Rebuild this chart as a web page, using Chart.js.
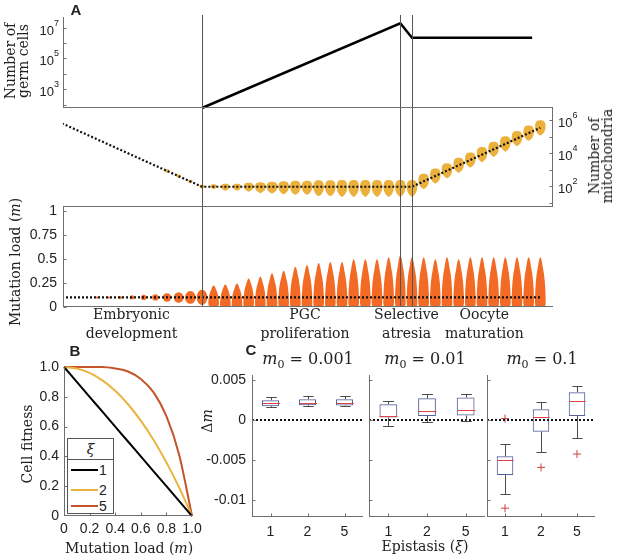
<!DOCTYPE html>
<html><head><meta charset="utf-8">
<script src="https://cdn.jsdelivr.net/npm/chart.js@4/dist/chart.umd.min.js"></script>
<style>
html,body{margin:0;padding:0;background:#fff;}
#wrap{position:relative;width:617px;height:559px;overflow:hidden;font-family:"DejaVu Serif",serif;color:#222;}
canvas{position:absolute;left:0;top:0;}
.t{position:absolute;white-space:nowrap;transform:translate(-50%,-50%);font-size:14px;line-height:1;}
.r{transform:translate(-50%,-50%) rotate(-90deg);text-align:center;}
.lt{font-family:"Liberation Sans",Arial,sans-serif;font-weight:bold;font-size:15px;}
sub{font-size:11px;vertical-align:-4px;line-height:0;}
#leg{position:absolute;left:67px;top:438px;width:45px;height:74px;border:1px solid #555;background:#fff;font-family:"Liberation Sans",Arial,sans-serif;font-size:14px;}
#leg .hd{position:absolute;left:0;top:0;width:45px;height:20px;border-bottom:1px solid #555;text-align:center;font-family:"DejaVu Serif",serif;font-style:italic;line-height:20px;}
#leg .ln{position:absolute;left:3px;width:27px;height:2px;}
#leg .nm{position:absolute;left:31px;line-height:14px;}
</style></head>
<body><div id="wrap">
<canvas id="aTop" width="617" height="559"></canvas>
<canvas id="aMid" width="617" height="559"></canvas>
<canvas id="aBot" width="617" height="559"></canvas>
<canvas id="bFit" width="617" height="559"></canvas>
<canvas id="c1" width="617" height="559"></canvas>
<canvas id="c2" width="617" height="559"></canvas>
<canvas id="c3" width="617" height="559"></canvas>

<div class="t lt" style="left:76px;top:9px">A</div>
<div class="t lt" style="left:75px;top:350px">B</div>
<div class="t lt" style="left:251px;top:349px">C</div>
<div class="t r" style="left:17px;top:61px;line-height:13px">Number of<br>germ cells</div>
<div class="t r" style="left:601px;top:156px;line-height:13px">Number of<br>mitochondria</div>
<div class="t r" style="left:15px;top:262px">Mutation load (<i>m</i>)</div>
<div class="t r" style="left:27px;top:444px">Cell fitness</div>
<div class="t" style="left:129px;top:548px">Mutation load (<i>m</i>)</div>
<div class="t" style="left:425px;top:546px">Epistasis (<i>ξ</i>)</div>
<div class="t r" style="left:207px;top:421px">Δ<i>m</i></div>
<div class="t" style="left:308px;top:359px;font-size:16px"><i>m</i><sub>0</sub> = 0.001</div>
<div class="t" style="left:425px;top:359px;font-size:16px"><i>m</i><sub>0</sub> = 0.01</div>
<div class="t" style="left:542px;top:359px;font-size:16px"><i>m</i><sub>0</sub> = 0.1</div>
<div id="leg"><div class="hd">ξ</div></div>
</div>
<script>
// ================= DATA =================
// Panel A: shared generation axis
const phaseBounds = [12, 29, 30];
const phaseNames = [['Embryonic', 'development'], ['PGC', 'proliferation'], ['Selective', 'atresia'], ['Oocyte', 'maturation']];
const phaseLabelPos = [5.96, 20.83, 29.53, 36.2];

// A top: number of germ cells
const germGen = [12, 29, 30, 40.3];
const germCells = [60, 1.9e7, 2.2e6, 2.2e6];
const germTicks = [1e3, 1e5, 1e7];

// A middle: number of mitochondria (mean line + per-generation spread)
const mitoLineGen = [0, 12, 30, 41];
const mitoLineVal = [6.3e5, 91, 91, 3.4e5];
const mitoGen = [9, 10, 11, 12, 13, 14, 15, 16, 17, 18, 19, 20, 21, 22, 23, 24, 25, 26, 27, 28, 29, 30,
                 31, 32, 33, 34, 35, 36, 37, 38, 39, 40, 41];
const mitoLow = [660, 316, 151, 69, 64, 52, 52, 46, 37, 35, 32, 30, 30, 24, 24, 22, 22, 22, 22, 22, 22, 22,
                 66, 141, 295, 631, 1318, 2818, 5888, 12589, 26303, 56234, 117490];
const mitoHigh = [1047, 501, 240, 120, 129, 138, 138, 158, 170, 182, 195, 209, 209, 224, 224, 234, 234, 234, 234, 234, 234, 234,
                  550, 1175, 2455, 5248, 10965, 23442, 48978, 104713, 218776, 467735, 977237];
const mitoTicks = [1e2, 1e4, 1e6];

// A bottom: mutation load (initial level + per-generation spread)
const loadLineGen = [0, 41];
const loadLineVal = [0.1, 0.1];
const loadGen = [3, 4, 5, 6, 7, 8, 9, 10, 11, 12, 13, 14, 15, 16, 17, 18, 19, 20, 21, 22, 23, 24, 25, 26, 27, 28,
                 29, 30, 31, 32, 33, 34, 35, 36, 37, 38, 39, 40, 41];
const loadLow = [0.089, 0.089, 0.084, 0.078, 0.073, 0.067, 0.056, 0.045, 0.034, 0.02, 0.01,
                 0.004, 0.004, 0.004, 0.004, 0.004, 0.004, 0.004, 0.004, 0.004, 0.004, 0.004, 0.004, 0.004,
                 0.004, 0.004, 0.004, 0.004, 0.004, 0.004, 0.004, 0.004, 0.004, 0.004, 0.004, 0.004, 0.004, 0.004, 0.004];
const loadHigh = [0.111, 0.111, 0.116, 0.122, 0.127, 0.133, 0.144, 0.155, 0.166, 0.18, 0.225,
                  0.236, 0.245, 0.298, 0.317, 0.353, 0.38, 0.42, 0.44, 0.46, 0.47, 0.47, 0.5, 0.5,
                  0.5, 0.52, 0.54, 0.52, 0.52, 0.5, 0.52, 0.5, 0.52, 0.52, 0.52, 0.52, 0.52, 0.52, 0.52];
const loadTicks = [0, 0.25, 0.5, 0.75, 1];

// Panel B: cell fitness vs mutation load
const loadGrid = [0, 0.1, 0.2, 0.3, 0.4, 0.5, 0.6, 0.7, 0.8, 0.9, 1];
const fitXi1 = [1, 0.9, 0.8, 0.7, 0.6, 0.5, 0.4, 0.3, 0.2, 0.1, 0];
const fitXi2 = [1, 0.99, 0.96, 0.91, 0.84, 0.75, 0.64, 0.51, 0.36, 0.19, 0];
const fitXi5 = [1, 1, 1, 1, 0.99, 0.97, 0.92, 0.83, 0.67, 0.41, 0];
const xiLabels = ['1', '2', '5'];

// Panel C: change in mutation load, boxplots per m0 and epistasis
const m0Values = ['0.001', '0.01', '0.1'];
const epistasis = ['1', '2', '5'];
const whiskLo = [[0.00165, 0.00179, 0.00175], [-0.00071, -0.00021, -0.00008], [-0.00921, -0.00396, -0.00221]];
const boxQ1   = [[0.00171, 0.00183, 0.00179], [0.00029, 0.0005, 0.00054], [-0.00688, -0.00146, 0.0005]];
const boxMed  = [[0.00208, 0.00217, 0.00217], [0.0005, 0.00108, 0.00121], [-0.005, 0.00033, 0.00233]];
const boxQ3   = [[0.00246, 0.00258, 0.00258], [0.00196, 0.00271, 0.00279], [-0.00454, 0.00133, 0.00346]];
const whiskHi = [[0.00283, 0.00296, 0.00296], [0.00242, 0.00329, 0.00329], [-0.00296, 0.00229, 0.00429]];
const outliers = [[[], [], []], [[], [], []], [[0.00017, -0.011], [-0.00592], [-0.00425]]];
const dmTicks = [0.005, 0, -0.005, -0.01];

// ================= STYLE =================
const SANS = '"Liberation Sans", Arial, sans-serif';
const SERIF = '"DejaVu Serif", serif';
const AXIS = '#6e6e6e';
const GOLD = '#ECB03C';
const ORANGE = '#F26A24';
const YELLOW = '#E9B43E';
const RUST = '#C4542A';

// ================= PLUGINS =================
const framePlugin = {
  id: 'frame',
  afterDraw(chart, a, o) {
    if (!o || !o.sides) return;
    const { ctx, chartArea: c } = chart;
    ctx.save();
    ctx.strokeStyle = o.color || AXIS; ctx.lineWidth = 1;
    ctx.beginPath();
    const L = Math.round(c.left) + 0.5, R = Math.round(c.right) - 0.5, T = Math.round(c.top) + 0.5, B = Math.round(c.bottom) - 0.5;
    o.sides.forEach(s => {
      if (s === 'left') { ctx.moveTo(L, c.top); ctx.lineTo(L, c.bottom); }
      if (s === 'right') { ctx.moveTo(R, c.top); ctx.lineTo(R, c.bottom); }
      if (s === 'top') { ctx.moveTo(c.left, T); ctx.lineTo(c.right, T); }
      if (s === 'bottom') { ctx.moveTo(c.left, B); ctx.lineTo(c.right, B); }
    });
    (o.ticks || []).forEach(t => {
      const s = chart.scales[t.scale];
      t.values.forEach(v => {
        const p = Math.round(s.getPixelForValue(v)) + 0.5;
        if (t.side === 'left') { ctx.moveTo(L, p); ctx.lineTo(L + t.len, p); }
        if (t.side === 'right') { ctx.moveTo(R, p); ctx.lineTo(R - t.len, p); }
        if (t.side === 'bottom') { ctx.moveTo(p, B); ctx.lineTo(p, B - t.len); }
      });
    });
    ctx.stroke();
    ctx.restore();
  }
};

const vlinePlugin = {
  id: 'vlines',
  afterDatasetsDraw(chart, a, o) {
    if (!o || !o.values) return;
    const { ctx, chartArea: c } = chart; const x = chart.scales.x;
    ctx.save(); ctx.strokeStyle = o.color || '#555'; ctx.lineWidth = 1; ctx.beginPath();
    o.values.forEach(v => { const p = Math.round(x.getPixelForValue(v)) + 0.5; ctx.moveTo(p, (o.top != null ? o.top : c.top)); ctx.lineTo(p, c.bottom); });
    ctx.stroke(); ctx.restore();
  }
};

const expTickPlugin = {
  id: 'expTicks',
  afterDraw(chart, a, o) {
    if (!o || !o.values) return;
    const s = chart.scales[o.scale]; const ctx = chart.ctx;
    ctx.save(); ctx.fillStyle = '#222'; ctx.textBaseline = 'alphabetic'; ctx.textAlign = 'left';
    o.values.forEach(v => {
      const y = s.getPixelForValue(v);
      const e = String(Math.round(Math.log10(v)));
      ctx.font = '13px ' + SANS; const wb = ctx.measureText('10').width;
      ctx.font = '9px ' + SANS; const we = ctx.measureText(e).width;
      const x0 = o.side === 'left' ? s.right - o.gap - wb - we : s.left + o.gap;
      ctx.font = '13px ' + SANS; ctx.fillText('10', x0, y + 7);
      ctx.font = '9px ' + SANS; ctx.fillText(e, x0 + wb, y - 2);
    });
    ctx.restore();
  }
};

// draws each floating bar of a dataset as a blob / flame instead of a rectangle
const shapePlugin = {
  id: 'shapes',
  afterDatasetDraw(chart, args) {
    const ds = chart.data.datasets[args.index];
    if (!ds.shape) return;
    const { ctx, chartArea: c } = chart;
    ctx.save();
    ctx.beginPath(); ctx.rect(c.left, c.top, c.right - c.left, c.bottom - c.top); ctx.clip();
    ctx.fillStyle = ds.shapeColor;
    args.meta.data.forEach(el => {
      const p = el.getProps(['x', 'y', 'base', 'width'], true);
      const top = Math.min(p.y, p.base), bot = Math.max(p.y, p.base), h = bot - top, x = p.x;
      ctx.beginPath();
      if (ds.shape === 'drop') {
        const rx = Math.min(p.width / 2, h * 0.45 + 0.8);
        ctx.moveTo(x, bot);
        ctx.bezierCurveTo(x - rx * 0.4, bot - h * 0.05, x - rx, bot - h * 0.25, x - rx, top + h * 0.42);
        ctx.bezierCurveTo(x - rx, top + h * 0.05, x - rx * 0.55, top, x, top);
        ctx.bezierCurveTo(x + rx * 0.55, top, x + rx, top + h * 0.05, x + rx, top + h * 0.42);
        ctx.bezierCurveTo(x + rx, bot - h * 0.25, x + rx * 0.4, bot - h * 0.05, x, bot);
      } else {
        const rx = Math.min(p.width / 2, h * 0.4 + 0.6);
        if (h < 16) {
          ctx.ellipse(x, (top + bot) / 2, rx, h / 2, 0, 0, Math.PI * 2);
        } else {
          ctx.moveTo(x - rx * 0.7, bot);
          ctx.quadraticCurveTo(x - rx, bot, x - rx, bot - h * 0.1);
          ctx.quadraticCurveTo(x - rx * 0.95, bot - h * 0.55, x - rx * 0.45, top + h * 0.2);
          ctx.quadraticCurveTo(x - rx * 0.2, top, x, top);
          ctx.quadraticCurveTo(x + rx * 0.2, top, x + rx * 0.45, top + h * 0.2);
          ctx.quadraticCurveTo(x + rx * 0.95, bot - h * 0.55, x + rx, bot - h * 0.1);
          ctx.quadraticCurveTo(x + rx, bot, x + rx * 0.7, bot);
        }
      }
      ctx.closePath(); ctx.fill();
    });
    ctx.restore();
  }
};

const whiskerPlugin = {
  id: 'whiskers',
  afterDatasetsDraw(chart, a, o) {
    if (!o || !o.med) return;
    const { ctx } = chart; const xs = chart.scales.x, ys = chart.scales.y;
    ctx.save(); ctx.lineWidth = 1;
    o.med.forEach((m, i) => {
      const x = Math.round(xs.getPixelForValue(i + 1)) + 0.5;
      const cap = xs.getPixelForValue(i + 1 + 0.14) - xs.getPixelForValue(i + 1);
      const half = xs.getPixelForValue(i + 1 + 0.23) - xs.getPixelForValue(i + 1);
      const yq1 = ys.getPixelForValue(o.q1[i]), yq3 = ys.getPixelForValue(o.q3[i]);
      const ylo = Math.round(ys.getPixelForValue(o.lo[i])) + 0.5, yhi = Math.round(ys.getPixelForValue(o.hi[i])) + 0.5;
      ctx.strokeStyle = '#4a4a4a'; ctx.beginPath();
      ctx.moveTo(x, yq3); ctx.lineTo(x, yhi); ctx.moveTo(x - cap, yhi); ctx.lineTo(x + cap, yhi);
      ctx.moveTo(x, yq1); ctx.lineTo(x, ylo); ctx.moveTo(x - cap, ylo); ctx.lineTo(x + cap, ylo);
      ctx.stroke();
      const ym = Math.round(ys.getPixelForValue(m)) + 0.5;
      ctx.strokeStyle = '#dd4444'; ctx.beginPath(); ctx.moveTo(x - half, ym); ctx.lineTo(x + half, ym); ctx.stroke();
    });
    ctx.restore();
  }
};

Chart.register(framePlugin, vlinePlugin, expTickPlugin, shapePlugin, whiskerPlugin);

const base = () => ({ responsive: false, animation: false, events: [], plugins: { legend: { display: false }, tooltip: { enabled: false } } });
const pts = (xs, ys) => xs.map((x, i) => ({ x, y: ys[i] }));
const T_MIN = 0.086, T_MAX = 42.086;
const noGrid = { display: false, drawTicks: false };

// ---------- A top ----------
{
  const o = base();
  o.layout = { padding: { left: 13, right: 64, top: 17, bottom: 451 } };
  o.plugins.frame = { sides: ['left', 'bottom'], ticks: [{ scale: 'y', values: [1e2, 1e3, 1e4, 1e5, 1e6, 1e7], side: 'left', len: 3 }] };
  o.plugins.vlines = { values: phaseBounds, top: 15 };
  o.plugins.expTicks = { scale: 'y', values: germTicks, side: 'left', gap: 4 };
  o.scales = {
    x: { type: 'linear', min: T_MIN, max: T_MAX, offset: false, display: false },
    y: { type: 'logarithmic', min: 60, max: 4.9e7, afterFit: s => { s.width = 50; }, ticks: { display: false }, grid: noGrid, border: { display: false } }
  };
  new Chart(document.getElementById('aTop'), {
    type: 'line',
    data: { datasets: [{ data: pts(germGen, germCells), borderColor: '#000', borderWidth: 2.5, pointRadius: 0, tension: 0, clip: false }] },
    options: o
  });
}

// ---------- A middle ----------
{
  const o = base();
  o.layout = { padding: { left: 63, right: 14, top: 108, bottom: 352 } };
  o.plugins.frame = { sides: ['right', 'bottom'], ticks: [{ scale: 'y', values: [1e1, 1e2, 1e3, 1e4, 1e5, 1e6], side: 'right', len: 3 }] };
  o.plugins.vlines = { values: phaseBounds };
  o.plugins.expTicks = { scale: 'y', values: mitoTicks, side: 'right', gap: 5 };
  o.scales = {
    x: { type: 'linear', min: T_MIN, max: T_MAX, offset: false, display: false },
    y: { type: 'logarithmic', position: 'right', min: 5.4, max: 5.4e6, afterFit: s => { s.width = 50; }, ticks: { display: false }, grid: noGrid, border: { display: false } }
  };
  new Chart(document.getElementById('aMid'), {
    type: 'bar',
    data: { datasets: [
      { type: 'line', order: 0, data: pts(mitoLineGen, mitoLineVal), borderColor: '#111', borderWidth: 2.2, borderDash: [2, 2], pointRadius: 0, tension: 0 },
      { type: 'bar', order: 1, data: mitoGen.map((g, i) => ({ x: g, y: [mitoLow[i], mitoHigh[i]] })), backgroundColor: 'rgba(0,0,0,0)', borderWidth: 0,
        barPercentage: 0.9, categoryPercentage: 1, shape: 'drop', shapeColor: GOLD }
    ] },
    options: o
  });
}

// ---------- A bottom ----------
{
  const o = base();
  o.layout = { padding: { left: 13, right: 64, top: 207, bottom: 211 } };
  o.plugins.frame = { sides: ['left', 'bottom'], ticks: [{ scale: 'y', values: loadTicks, side: 'left', len: 3 }] };
  o.plugins.vlines = { values: phaseBounds };
  o.scales = {
    x: { type: 'linear', min: T_MIN, max: T_MAX, offset: false, afterFit: s => { s.height = 41; },
         afterBuildTicks: s => { s.ticks = phaseLabelPos.map(v => ({ value: v })); },
         ticks: { autoSkip: false, maxRotation: 0, padding: -1, color: '#222', font: { family: SERIF, size: 14, lineHeight: 1.33 }, callback: (v, i) => phaseNames[i] },
         grid: noGrid, border: { display: false } },
    y: { type: 'linear', min: 0, max: 1.045, afterFit: s => { s.width = 50; },
         afterBuildTicks: s => { s.ticks = loadTicks.map(v => ({ value: v })); },
         ticks: { padding: 6, color: '#222', font: { family: SANS, size: 14 }, callback: v => String(v) },
         grid: noGrid, border: { display: false } }
  };
  new Chart(document.getElementById('aBot'), {
    type: 'bar',
    data: { datasets: [
      { type: 'line', order: 0, data: pts(loadLineGen, loadLineVal), borderColor: '#111', borderWidth: 2.2, borderDash: [2, 2], pointRadius: 0, tension: 0 },
      { type: 'bar', order: 1, data: loadGen.map((g, i) => ({ x: g, y: [loadLow[i], loadHigh[i]] })), backgroundColor: 'rgba(0,0,0,0)', borderWidth: 0,
        barPercentage: 0.92, categoryPercentage: 1, shape: 'flame', shapeColor: ORANGE }
    ] },
    options: o
  });
}

// ---------- B ----------
{
  const o = base();
  o.layout = { padding: { left: 14, right: 425, top: 367, bottom: 18 } };
  o.plugins.frame = { sides: ['left', 'bottom'], ticks: [
    { scale: 'x', values: [0.2, 0.4, 0.6, 0.8], side: 'bottom', len: 3 },
    { scale: 'y', values: [0.2, 0.4, 0.6, 0.8], side: 'left', len: 3 }] };
  o.scales = {
    x: { type: 'linear', min: 0, max: 1, afterFit: s => { s.height = 25; }, ticks: { stepSize: 0.2, padding: 5, color: '#222', font: { family: SANS, size: 14 } }, grid: noGrid, border: { display: false } },
    y: { type: 'linear', min: 0, max: 1, afterFit: s => { s.width = 50; }, ticks: { stepSize: 0.2, padding: 5, color: '#222', font: { family: SANS, size: 14 } }, grid: noGrid, border: { display: false } }
  };
  const line = (ys, col) => ({ data: pts(loadGrid, ys), borderColor: col, borderWidth: 2, pointRadius: 0, cubicInterpolationMode: 'monotone', clip: false });
  new Chart(document.getElementById('bFit'), {
    type: 'line',
    data: { datasets: [line(fitXi1, '#000'), line(fitXi2, YELLOW), line(fitXi5, RUST)] },
    options: o
  });
  const leg = document.getElementById('leg');
  [['#000', 31], [YELLOW, 51], [RUST, 67]].forEach(([col, y], i) => {
    const l = document.createElement('div'); l.className = 'ln'; l.style.top = (y - 1) + 'px'; l.style.background = col; leg.appendChild(l);
    const n = document.createElement('div'); n.className = 'nm'; n.style.top = (y - 7) + 'px'; n.textContent = xiLabels[i]; leg.appendChild(n);
  });
}

// ---------- C ----------
const cLayout = [
  { id: 'c1', left: 252, right: 363, yLabels: true },
  { id: 'c2', left: 369, right: 485, yLabels: false },
  { id: 'c3', left: 487, right: 595, yLabels: false }
];
cLayout.forEach((L, k) => {
  const o = base();
  const yw = L.yLabels ? 50 : 0;
  o.layout = { padding: { left: L.left - yw, right: 617 - L.right, top: 375, bottom: 17 } };
  o.plugins.frame = { sides: ['left', 'bottom'], ticks: [
    { scale: 'y', values: dmTicks, side: 'left', len: 3 },
    { scale: 'x', values: [1, 2, 3], side: 'bottom', len: 3 }] };
  o.plugins.whiskers = { lo: whiskLo[k], q1: boxQ1[k], med: boxMed[k], q3: boxQ3[k], hi: whiskHi[k] };
  o.scales = {
    x: { type: 'linear', min: 0.5, max: 3.5, offset: false, afterFit: s => { s.height = 25; },
         afterBuildTicks: s => { s.ticks = [1, 2, 3].map(v => ({ value: v })); },
         ticks: { padding: 7, color: '#222', font: { family: SANS, size: 14 }, callback: (v, i) => epistasis[i] },
         grid: noGrid, border: { display: false } },
    y: { type: 'linear', min: -0.0121, max: 0.0056, afterFit: s => { s.width = yw; },
         afterBuildTicks: s => { s.ticks = dmTicks.map(v => ({ value: v })); },
         ticks: { display: L.yLabels, padding: 6, color: '#222', font: { family: SANS, size: 14 }, callback: v => String(v) },
         grid: noGrid, border: { display: false } }
  };
  const outPts = [];
  outliers[k].forEach((arr, i) => arr.forEach(v => outPts.push({ x: i + 1, y: v })));
  new Chart(document.getElementById(L.id), {
    type: 'bar',
    data: { datasets: [
      { type: 'line', order: 0, data: [{ x: 0.5, y: 0 }, { x: 3.5, y: 0 }], borderColor: '#111', borderWidth: 2, borderDash: [2, 2], pointRadius: 0 },
      { type: 'scatter', order: 0, data: outPts, pointStyle: 'cross', pointRadius: 4, borderColor: '#d04040', borderWidth: 1, backgroundColor: '#d04040' },
      { type: 'bar', order: 1, data: [0, 1, 2].map(i => ({ x: i + 1, y: [boxQ1[k][i], boxQ3[k][i]] })), backgroundColor: 'rgba(0,0,0,0)',
        borderColor: '#56609a', borderWidth: 1, borderSkipped: false, barPercentage: 0.46, categoryPercentage: 1 }
    ] },
    options: o
  });
});
</script>
</body></html>
